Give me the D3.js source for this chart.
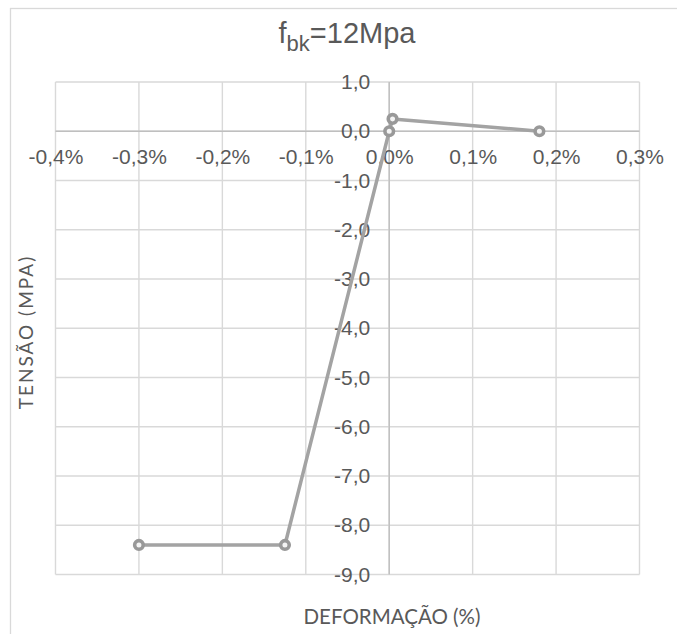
<!DOCTYPE html>
<html><head><meta charset="utf-8">
<script src="https://cdn.jsdelivr.net/npm/d3@7"></script>
<style>body{margin:0;background:#fff;}svg{display:block;}</style>
</head><body>
<svg id="c" width="677" height="634"></svg>
<script>
// Data (strain in %, stress in MPa)
const strain = [-0.3, -0.125, 0.0, 0.004, 0.18];
const stress = [-8.4, -8.4, 0.0, 0.25, 0.0];
const xTicks = [-0.4, -0.3, -0.2, -0.1, 0.0, 0.1, 0.2, 0.3];
const yTicks = [1, 0, -1, -2, -3, -4, -5, -6, -7, -8, -9];
const titleMain = "f";
const titleSub = "bk";
const titleRest = "=12Mpa";
const xTitle = "DEFORMAÇÃO (%)";
const yTitle = "TENSÃO (MPA)";

const svg = d3.select("#c");
const plot = {l: 55.5, r: 639.5, t: 82, b: 574.5};
const x = d3.scaleLinear().domain([-0.4, 0.3]).range([plot.l, plot.r]);
const y = d3.scaleLinear().domain([-9, 1]).range([plot.b, plot.t]);
const txt = "#595959";
const fmtX = d => d3.format(".1f")(d).replace("−","-").replace(".", ",").replace(/^-0,0$/,"0,0") + "%";
const fmtY = d => d3.format(".1f")(d).replace("−","-").replace(".", ",");

// chart border
svg.append("rect").attr("x", 10.5).attr("y", 8.5).attr("width", 800).attr("height", 800)
  .attr("fill", "none").attr("stroke", "#d9d9d9").attr("stroke-width", 1.3);

// gridlines
const g = svg.append("g");
g.selectAll("line.v").data(xTicks).join("line")
  .attr("x1", d => x(d)).attr("x2", d => x(d)).attr("y1", plot.t).attr("y2", plot.b)
  .attr("stroke", "#d9d9d9").attr("stroke-width", 1.4);
g.selectAll("line.h").data(yTicks).join("line")
  .attr("y1", d => y(d)).attr("y2", d => y(d)).attr("x1", plot.l).attr("x2", plot.r)
  .attr("stroke", "#d9d9d9").attr("stroke-width", 1.4);

// axis lines through zero
svg.append("line").attr("x1", plot.l).attr("x2", plot.r).attr("y1", y(0)).attr("y2", y(0))
  .attr("stroke", "#bfbfbf").attr("stroke-width", 1.4);
svg.append("line").attr("x1", x(0)).attr("x2", x(0)).attr("y1", plot.t).attr("y2", plot.b)
  .attr("stroke", "#bfbfbf").attr("stroke-width", 1.4);

// tick labels via d3 axes (no domain / tick lines)
const tickFont = "'Liberation Sans', Arial, sans-serif";
const xAxis = d3.axisBottom(x).tickValues(xTicks).tickFormat(fmtX).tickSize(0).tickPadding(18);
const xa = svg.append("g").attr("transform", `translate(0,${y(0)})`).call(xAxis);
xa.select(".domain").remove();
xa.selectAll("text").attr("fill", txt).style("font-family", tickFont).style("font-size", "21px");

const yAxis = d3.axisLeft(y).tickValues(yTicks).tickFormat(fmtY).tickSize(0).tickPadding(19);
const ya = svg.append("g").attr("transform", `translate(${x(0)},0)`).call(yAxis);
ya.select(".domain").remove();
ya.selectAll("text").attr("fill", txt).style("font-family", tickFont).style("font-size", "21px");

// series
const pts = strain.map((s, i) => [s, stress[i]]);
svg.append("path").datum(pts)
  .attr("d", d3.line().x(d => x(d[0])).y(d => y(d[1])))
  .attr("fill", "none").attr("stroke", "#a3a3a3").attr("stroke-width", 3.5).attr("stroke-linejoin", "round");
svg.selectAll("circle.m").data(pts).join("circle")
  .attr("cx", d => x(d[0])).attr("cy", d => y(d[1])).attr("r", 4.3)
  .attr("fill", "#f4f4f4").attr("stroke", "#999999").attr("stroke-width", 3.6);

// title
const t = svg.append("text").attr("x", 347).attr("y", 43.3).attr("text-anchor", "middle")
  .attr("fill", txt).style("font-family", tickFont).style("font-size", "29px");
t.append("tspan").text(titleMain);
t.append("tspan").attr("dy", 8).style("font-size", "22px").text(titleSub);
t.append("tspan").attr("dy", -8).text(titleRest);

// axis titles
svg.append("text").attr("x", 392).attr("y", 624).attr("text-anchor", "middle")
  .attr("fill", txt).style("font-family", "Lato, sans-serif").style("font-size", "20.5px").text(xTitle);
svg.append("text").attr("transform", `translate(33,332) rotate(-90)`)
  .attr("text-anchor", "middle").attr("fill", txt)
  .style("font-family", "Lato, sans-serif").style("font-size", "19px").style("letter-spacing", "2px").text(yTitle);
</script>
</body></html>
